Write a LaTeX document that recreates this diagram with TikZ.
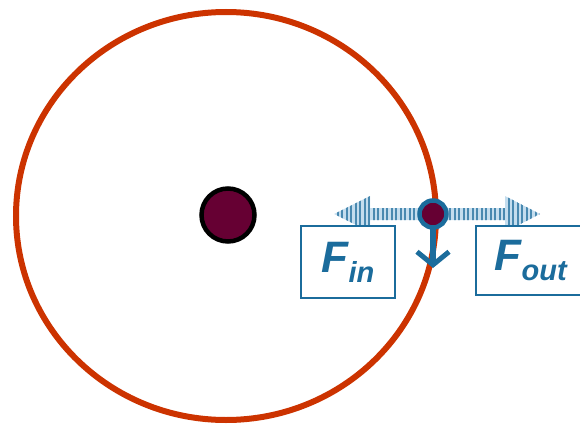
\documentclass[tikz,border=0pt]{standalone}
\usepackage{fontspec}
\setmainfont{Liberation Sans}
\usetikzlibrary{patterns.meta,arrows.meta}
\definecolor{ring}{HTML}{CC3300}
\definecolor{dotfill}{HTML}{660033}
\definecolor{fblue}{HTML}{1B6C9C}
\definecolor{lightb}{HTML}{C4DDEE}
\tikzset{
  lbl/.style={draw=fblue,line width=1.6pt,fill=white,inner sep=0pt,text=fblue,font=\bfseries\itshape\fontsize{44}{44}\selectfont},
  stripe/.style={pattern={Lines[angle=90,distance=4.5pt,line width=2pt]},pattern color=fblue!80}
}
\begin{document}
\begin{tikzpicture}[x=1pt,y=-1pt]
\useasboundingbox (0,0) rectangle (580,425);
% big orbit
\draw[ring,line width=6pt] (226,216) ellipse [x radius=210, y radius=204];
% centre body
\node[circle,draw=black,line width=4.5pt,fill=dotfill,minimum size=53pt,inner sep=0pt] (sun) at (228,215) {};
% orbiting body position
\coordinate (p) at (433,214);
% striped arrows
\fill[lightb] (426,208) -- (370,208) -- (370,196) -- (334,214) -- (370,232) -- (370,220) -- (426,220) -- cycle;
\path[stripe] (426,208) -- (370,208) -- (370,196) -- (334,214) -- (370,232) -- (370,220) -- (426,220) -- cycle;
\fill[lightb] (440,208) -- (505,208) -- (505,196) -- (540,214) -- (505,232) -- (505,220) -- (440,220) -- cycle;
\path[stripe] (440,208) -- (505,208) -- (505,196) -- (540,214) -- (505,232) -- (505,220) -- (440,220) -- cycle;
% label boxes
\node[lbl,minimum width=94pt,minimum height=72pt] (fin) at (348,262) {F\raisebox{-10pt}{\fontsize{29}{29}\selectfont in}};
\node[lbl,minimum width=110pt,minimum height=69pt,anchor=west] (fout) at (475,260.5) {F\raisebox{-10pt}{\fontsize{29}{29}\selectfont out}};
% velocity arrow
\coordinate (v) at (433,268);
\draw[fblue,line width=5.5pt,-{Straight Barb[length=13pt,width=32pt,line width=5pt]}] (p) -- (v);
% orbiting body
\node[circle,draw=fblue,line width=4.5pt,fill=dotfill,minimum size=27pt,inner sep=0pt] (planet) at (p) {};
\end{tikzpicture}
\end{document}
